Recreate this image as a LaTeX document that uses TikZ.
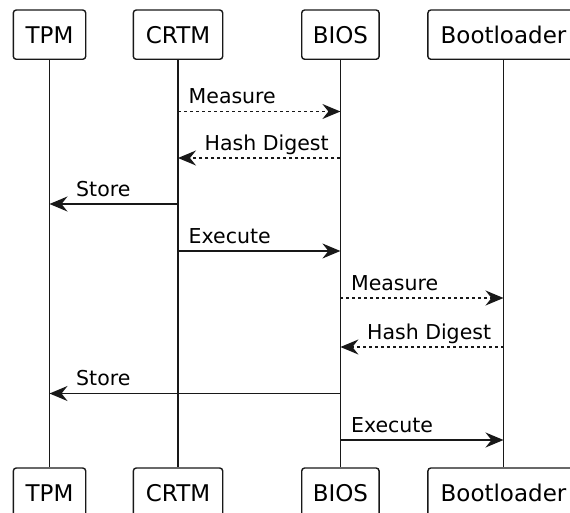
\documentclass[tikz,border=0pt]{standalone}
\usepackage{fontspec}
\setmainfont{DejaVu Sans}
\usetikzlibrary{arrows.meta}
\definecolor{ink}{HTML}{181818}
\begin{document}
\begin{tikzpicture}[x=1pt,y=-1pt,
  actor/.style={draw=ink, line width=1.4pt, rounded corners=3pt, fill=white,
    minimum height=49.3pt, inner sep=0pt, text=black,
    font=\fontsize{23}{27}\selectfont},
  life/.style={draw=ink, line width=1.5pt},
  msg/.style={draw=ink, line width=1.5pt,
    -{Stealth[length=18pt,width=15pt,inset=6pt]}},
  reply/.style={msg, dash pattern=on 3pt off 3pt},
  lbl/.style={anchor=base west, inner sep=0pt, text=black,
    font=\fontsize{20.5}{24}\selectfont}]
\clip (0,0) rectangle (570,513);

% participants, top row
\node[actor, minimum width=72.4pt]  (tpmT)  at (49.5,34.65)  {TPM};
\node[actor, minimum width=89.4pt]  (crtmT) at (178,34.65)   {CRTM};
\node[actor, minimum width=77.4pt]  (biosT) at (340.4,34.65) {BIOS};
\node[actor, minimum width=151.2pt] (bootT) at (503.5,34.65) {Bootloader};

% participants, bottom row
\node[actor, minimum width=72.4pt]  (tpmB)  at (49.5,492.65)  {TPM};
\node[actor, minimum width=89.4pt]  (crtmB) at (178,492.65)   {CRTM};
\node[actor, minimum width=77.4pt]  (biosB) at (340.4,492.65) {BIOS};
\node[actor, minimum width=151.2pt] (bootB) at (503.5,492.65) {Bootloader};

% lifelines
\draw[life] (tpmT.south)  -- (tpmB.north);
\draw[life] (crtmT.south) -- (crtmB.north);
\draw[life] (biosT.south) -- (biosB.north);
\draw[life] (bootT.south) -- (bootB.north);

% message rows
\coordinate (r1) at (0,111.5);
\coordinate (r2) at (0,158);
\coordinate (r3) at (0,204);
\coordinate (r4) at (0,251);
\coordinate (r5) at (0,298);
\coordinate (r6) at (0,347);
\coordinate (r7) at (0,393.5);
\coordinate (r8) at (0,440);

% CRTM measures and hands over to BIOS
\draw[reply] (crtmT |- r1) -- (biosT |- r1);
\node[lbl] (t1) at ([xshift=10.5pt,yshift=7.8pt]crtmT |- r1) {Measure};
\draw[reply] (biosT |- r2) -- (crtmT |- r2);
\node[lbl] (t2) at ([xshift=26.5pt,yshift=7.8pt]crtmT |- r2) {Hash Digest};
\draw[msg] (crtmT |- r3) -- (tpmT |- r3);
\node[lbl] (t3) at ([xshift=26.5pt,yshift=7.8pt]tpmT |- r3) {Store};
\draw[msg] (crtmT |- r4) -- (biosT |- r4);
\node[lbl] (t4) at ([xshift=10.5pt,yshift=7.8pt]crtmT |- r4) {Execute};

% BIOS measures and hands over to the bootloader
\draw[reply] (biosT |- r5) -- (bootT |- r5);
\node[lbl] (t5) at ([xshift=10.5pt,yshift=7.8pt]biosT |- r5) {Measure};
\draw[reply] (bootT |- r6) -- (biosT |- r6);
\node[lbl] (t6) at ([xshift=26.5pt,yshift=7.8pt]biosT |- r6) {Hash Digest};
\draw[msg] (biosT |- r7) -- (tpmT |- r7);
\node[lbl] (t7) at ([xshift=26.5pt,yshift=7.8pt]tpmT |- r7) {Store};
\draw[msg] (biosT |- r8) -- (bootT |- r8);
\node[lbl] (t8) at ([xshift=10.5pt,yshift=7.8pt]biosT |- r8) {Execute};
\end{tikzpicture}
\end{document}
